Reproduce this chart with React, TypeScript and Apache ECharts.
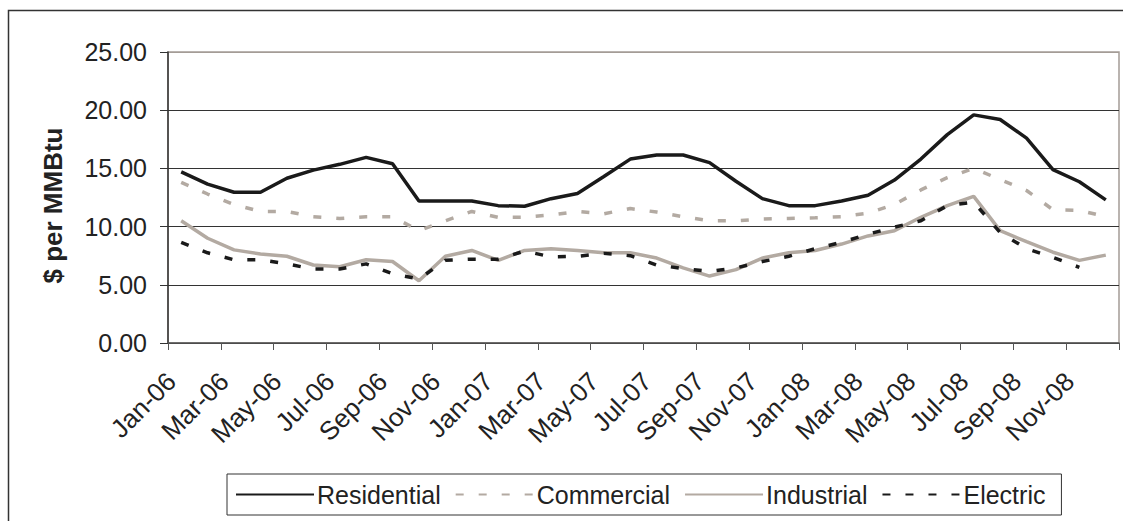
import React, { useEffect, useRef } from "react";
import * as echarts from "echarts";

const months = [
  "Jan-06","Feb-06","Mar-06","Apr-06","May-06","Jun-06","Jul-06","Aug-06","Sep-06","Oct-06","Nov-06","Dec-06",
  "Jan-07","Feb-07","Mar-07","Apr-07","May-07","Jun-07","Jul-07","Aug-07","Sep-07","Oct-07","Nov-07","Dec-07",
  "Jan-08","Feb-08","Mar-08","Apr-08","May-08","Jun-08","Jul-08","Aug-08","Sep-08","Oct-08","Nov-08","Dec-08",
];

const residential = [
  14.7, 13.65, 12.95, 12.95, 14.15, 14.85, 15.35, 15.95, 15.4, 12.2, 12.2, 12.2,
  11.8, 11.75, 12.4, 12.85, 14.3, 15.8, 16.15, 16.15, 15.5, 13.9, 12.4, 11.8,
  11.8, 12.2, 12.7, 14.0, 15.8, 17.9, 19.6, 19.2, 17.6, 14.9, 13.85, 12.3,
];

const commercial = [
  13.8, 12.8, 11.9, 11.3, 11.3, 10.85, 10.7, 10.85, 10.85, 9.65, 10.5, 11.3,
  10.8, 10.8, 11.0, 11.3, 11.1, 11.55, 11.25, 10.85, 10.5, 10.5, 10.65, 10.7,
  10.75, 10.85, 11.15, 11.9, 13.15, 14.2, 15.0, 14.05, 13.1, 11.45, 11.4, 10.85,
];

const industrial = [
  10.5, 9.0, 8.0, 7.65, 7.45, 6.7, 6.55, 7.15, 7.0, 5.35, 7.45, 7.95,
  7.1, 7.95, 8.1, 7.95, 7.75, 7.75, 7.3, 6.45, 5.75, 6.3, 7.3, 7.75,
  7.95, 8.5, 9.2, 9.65, 10.8, 11.8, 12.6, 9.65, 8.7, 7.8, 7.1, 7.55,
];

const electric: (number | null)[] = [
  8.65, 7.75, 7.15, 7.15, 6.8, 6.35, 6.35, 6.8, 5.95, 5.5, 7.1, 7.2,
  7.2, 7.9, 7.4, 7.45, 7.7, 7.5, 6.7, 6.4, 6.15, 6.45, 7.0, 7.45,
  8.1, 8.65, 9.35, 9.95, 10.5, 11.8, 12.1, 9.5, 8.1, 7.35, 6.5, null,
];

const yAxisTitle = "$ per MMBtu";

const DARK = "#1a1a1a";
const TAN = "#b3aaa2";
const FONT = "'Liberation Sans', Arial, sans-serif";

export default function App() {
  const ref = useRef<HTMLDivElement>(null);

  useEffect(() => {
    if (!ref.current) return;
    const chart = echarts.init(ref.current, null, { renderer: "svg" });
    const mk = (name: string, data: (number | null)[], color: string, dashed: boolean) => ({
      name,
      type: "line",
      data,
      symbol: "none",
      connectNulls: false,
      lineStyle: {
        color,
        width: 3.5,
        type: dashed ? [8, 15] : "solid",
        cap: "butt",
      },
      itemStyle: { color },
    });
    chart.setOption({
      animation: false,
      backgroundColor: "#ffffff",
      textStyle: { fontFamily: FONT },
      graphic: [
        {
          type: "rect",
          shape: { x: 8.5, y: 10.5, width: 1300, height: 700 },
          style: { fill: "none", stroke: "#333", lineWidth: 1.5 },
          silent: true,
        },
      ],
      grid: {
        left: 168,
        right: 4,
        top: 52,
        bottom: 178,
        show: true,
        borderColor: "#a49c96",
        borderWidth: 1.5,
        containLabel: false,
      },
      legend: {
        left: 227,
        top: 474,
        orient: "horizontal",
        itemWidth: 78,
        itemHeight: 14,
        itemGap: 14,
        padding: [8, 16, 8, 8],
        borderColor: "#333",
        borderWidth: 1,
        itemStyle: { opacity: 0 },
        textStyle: { fontFamily: FONT, fontSize: 25, color: "#222", padding: [0, 0, 0, -2] },
        data: ["Residential", "Commercial", "Industrial", "Electric"],
      },
      xAxis: {
        type: "category",
        data: months,
        boundaryGap: true,
        axisLine: { lineStyle: { color: "#555", width: 1.5 } },
        axisTick: { show: true, interval: 1, length: 7, lineStyle: { color: "#555" } },
        axisLabel: {
          interval: 1,
          rotate: 45,
          margin: 24,
          padding: [0, 14, 0, 0],
          fontFamily: FONT,
          fontSize: 26,
          color: "#222",
        },
        splitLine: { show: false },
      },
      yAxis: {
        type: "value",
        min: 0,
        max: 25,
        interval: 5,
        name: yAxisTitle,
        nameLocation: "middle",
        nameGap: 102,
        nameTextStyle: {
          fontFamily: FONT,
          fontSize: 26,
          fontWeight: "bold",
          color: "#222",
          padding: [0, 16, 0, 0],
        },
        axisLine: { show: true, lineStyle: { color: "#333", width: 1.5 } },
        axisTick: { show: true, length: 8, lineStyle: { color: "#333" } },
        axisLabel: {
          margin: 21,
          fontFamily: FONT,
          fontSize: 25,
          color: "#222",
          formatter: (v: number) => v.toFixed(2),
        },
        splitLine: {
          show: true,
          lineStyle: { color: ["#333", "#333", "#333", "#333", "#333", "#a49c96"], width: 1.2 },
        },
      },
      series: [
        mk("Residential", residential, DARK, false),
        mk("Commercial", commercial, TAN, true),
        mk("Industrial", industrial, TAN, false),
        mk("Electric", electric, DARK, true),
      ],
    });
    return () => chart.dispose();
  }, []);

  return (
    <div
      ref={ref}
      style={{ position: "absolute", left: 0, top: 0, width: 1123, height: 521 }}
    />
  );
}
